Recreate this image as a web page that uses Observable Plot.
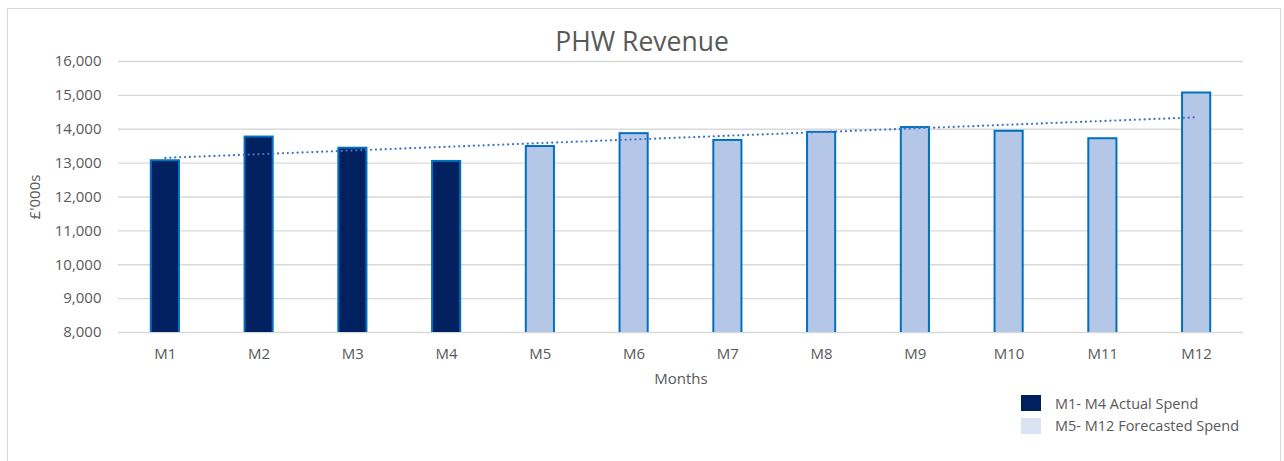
<!DOCTYPE html>
<html>
<head>
<meta charset="utf-8">
<script src="https://cdn.jsdelivr.net/npm/d3@7"></script>
<script src="https://cdn.jsdelivr.net/npm/@observablehq/plot@0.6"></script>
<style>
  html, body { margin: 0; padding: 0; background: #fff; }
  body { width: 1284px; height: 461px; overflow: hidden; position: relative; font-family: "Open Sans", sans-serif; color: #595959; }
  #frame { position: absolute; left: 7px; top: 8px; width: 1274px; height: 470px; border: 1.5px solid #d9d9d9; box-sizing: border-box; z-index: 0; }
  #title { position: relative; z-index: 1; height: 46px; box-sizing: border-box; padding-top: 26px; line-height: 30px; text-align: center; font-size: 26.5px; color: #595959; white-space: nowrap; }
  #chart { position: relative; z-index: 1; }
  #chart svg { display: block; }
  #legend { position: relative; z-index: 1; padding-left: 1021px; margin-top: 5px; font-size: 14.5px; color: #595959; }
  .row { display: flex; align-items: center; height: 16px; margin-bottom: 6.5px; }
  .sw { width: 20px; height: 16px; margin-right: 14px; flex: none; }
</style>
</head>
<body>
<div id="frame"></div>
<div id="title">PHW Revenue</div>
<div id="chart"></div>
<div id="legend"></div>
<script>
const months = ["M1", "M2", "M3", "M4", "M5", "M6", "M7", "M8", "M9", "M10", "M11", "M12"];
const revenue = [13070, 13770, 13440, 13050, 13490, 13870, 13670, 13910, 14050, 13940, 13720, 15070];
const status = ["Actual", "Actual", "Actual", "Actual", "Forecast", "Forecast", "Forecast", "Forecast", "Forecast", "Forecast", "Forecast", "Forecast"];
const statusKeys = ["Actual", "Forecast"];
const legendLabels = ["M1- M4 Actual Spend", "M5- M12 Forecasted Spend"];
const yTicks = [8000, 9000, 10000, 11000, 12000, 13000, 14000, 15000, 16000];

const data = months.map((m, i) => ({month: m, value: revenue[i], status: status[i]}));

// linear trendline (least squares over month index)
const xs = revenue.map((_, i) => i + 1);
const mx = d3.mean(xs), my = d3.mean(revenue);
const slope = d3.sum(xs, (x, i) => (x - mx) * (revenue[i] - my)) / d3.sum(xs, x => (x - mx) ** 2);
const intercept = my - slope * mx;
const trend = months.map((m, i) => ({month: m, fit: intercept + slope * xs[i]}));

const chart = Plot.plot({
  width: 1284,
  height: 344,
  marginTop: 15,
  marginBottom: 58,
  marginLeft: 118,
  marginRight: 41,
  style: {fontFamily: "'Open Sans', sans-serif", fontSize: "15px", color: "#595959", background: "transparent", overflow: "visible"},
  x: {domain: months, paddingInner: 0.7, paddingOuter: 0.35, round: false},
  y: {domain: [8000, 16000]},
  color: {domain: statusKeys, range: ["#002060", "#B4C7E7"]},
  marks: [
    Plot.gridY(yTicks, {stroke: "#d9d9d9", strokeOpacity: 1, strokeWidth: 1.3}),
    Plot.barY(data, {x: "month", y: "value", fill: "status", stroke: "#0070C0", strokeWidth: 2, clip: true}),
    Plot.line(trend, {x: "month", y: "fit", stroke: "#4472C4", strokeWidth: 2.2, strokeLinecap: "round", strokeDasharray: "0.1,4.8"}),
    Plot.axisY(yTicks, {tickSize: 0, tickPadding: 17, tickFormat: d3.format(","), label: "£'000s", labelAnchor: "center", labelArrow: "none", labelOffset: 89, fill: "#595959"}),
    Plot.axisX({tickSize: 0, tickPadding: 16, label: "Months", labelAnchor: "center", labelArrow: "none", labelOffset: 51, fill: "#595959"})
  ]
});
document.getElementById("chart").appendChild(chart);

const legendColors = ["#002060", "#DAE3F3"];
const legend = document.getElementById("legend");
legendLabels.forEach((t, i) => {
  const row = document.createElement("div");
  row.className = "row";
  const sw = document.createElement("div");
  sw.className = "sw";
  sw.style.background = legendColors[i];
  const lab = document.createElement("span");
  lab.textContent = t;
  row.appendChild(sw);
  row.appendChild(lab);
  legend.appendChild(row);
});
</script>
</body>
</html>
